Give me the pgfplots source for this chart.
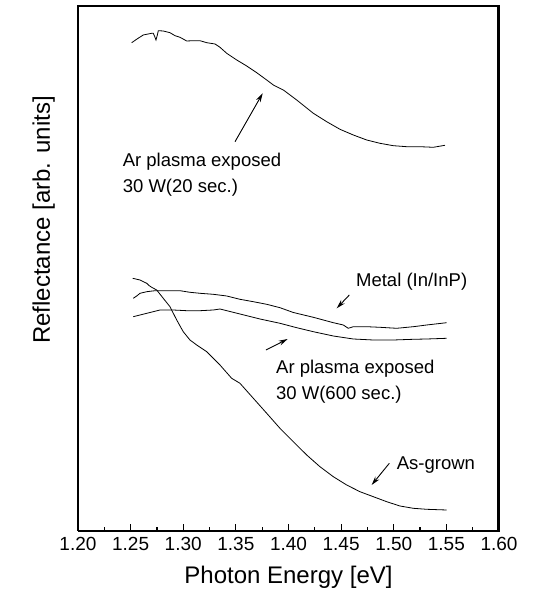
\documentclass[border=0pt]{standalone}
\usepackage{fontspec}
\setmainfont{Liberation Sans}
\usepackage{pgfplots}
\pgfplotsset{compat=1.18}
\usetikzlibrary{arrows.meta}

\begin{document}
\begin{tikzpicture}
\begin{axis}[
  scale only axis,
  width=421pt, height=525pt,
  xmin=1.2, xmax=1.6, ymin=0, ymax=525,
  axis x line*=bottom,
  axis y line*=left,
  axis line style={line width=1.8pt, -},
  xtick={1.20,1.25,...,1.601},
  minor x tick num=1,
  tick align=inside,
  major tick length=7pt,
  minor tick length=4pt,
  tick style={line width=1.2pt, black},
  ytick=\empty,
  xticklabel style={font=\fontsize{19}{21}\selectfont, yshift=-3pt},
  /pgf/number format/.cd, fixed, fixed zerofill, precision=2, assume math mode=true,
  /pgfplots/.cd,
  xlabel={Photon Energy [eV]},
  xlabel style={font=\fontsize{24}{26}\selectfont, at={(axis description cs:0.5,0)}, anchor=base, yshift=-52pt},
  clip=false,
]
% Ar plasma exposed, 30 W (20 s)
\addplot[black, line width=0.8pt] coordinates {
(1.2510,488.3) (1.2561,492) (1.2620,496) (1.2700,497.7) (1.2715,497.7)
(1.2727,495) (1.2741,491) (1.2754,496) (1.2763,500.3) (1.2810,500)
(1.2874,498.3) (1.2922,495.3) (1.2969,493.7) (1.3033,490) (1.3095,490.3)
(1.3159,490.3) (1.3223,488.3) (1.3302,487) (1.3349,483.7) (1.3413,477.7)
(1.3508,471) (1.3603,465) (1.3698,458.3) (1.3793,451) (1.3856,446)
(1.3951,441) (1.4078,431) (1.4236,417.7) (1.4363,409.3) (1.4489,401.7)
(1.4616,396) (1.4743,391) (1.4869,387.7) (1.4996,385.3) (1.5123,384.3)
(1.5249,384.3) (1.5376,383.7) (1.5487,385.7)
};
% As-grown
\addplot[black, line width=0.8pt] coordinates {
(1.2520,252.7) (1.2589,251) (1.2653,247.7) (1.2675,245.5) (1.2700,243.7)
(1.2748,241) (1.2810,232.7) (1.2874,224.3) (1.2938,211) (1.3000,199.3)
(1.3064,191) (1.3128,186) (1.3223,179.3) (1.3349,166) (1.3460,152.7)
(1.3539,147.7) (1.3666,132.7) (1.3793,117.7) (1.3919,102.7) (1.4046,89.3)
(1.4173,76) (1.4299,64.3) (1.4426,54.3) (1.4553,46) (1.4679,39.3)
(1.4806,34.3) (1.4933,29.3) (1.5059,25) (1.5186,22.7) (1.5313,21.7)
(1.5503,21)
};
% Metal (In/InP)
\addplot[black, line width=0.8pt] coordinates {
(1.2525,232.7) (1.2558,235) (1.2589,237.7) (1.2653,239.3) (1.2732,240.3)
(1.2843,240.3) (1.2969,240.3) (1.3064,238.7) (1.3159,237.7) (1.3286,236.7)
(1.3413,235) (1.3539,231.7) (1.3666,229.3) (1.3793,226.7) (1.3919,223.3)
(1.4046,218.5) (1.4236,213.7) (1.4426,208.3) (1.4521,206) (1.4568,202.7)
(1.4616,204.3) (1.4743,204.3) (1.4869,203.7) (1.5028,202.7) (1.5186,204.3)
(1.5313,206) (1.5503,208.3)
};
% Ar plasma exposed, 30 W (600 s)
\addplot[black, line width=0.8pt] coordinates {
(1.2525,214.3) (1.2653,217.7) (1.2779,221) (1.2905,221) (1.3033,220.3)
(1.3159,220.3) (1.3286,221) (1.3349,222) (1.3413,220.3) (1.3539,217)
(1.3729,212) (1.3919,207.7) (1.4078,203.3) (1.4236,199.3) (1.4426,195)
(1.4616,192) (1.4806,191) (1.4996,191) (1.5186,191.7) (1.5313,192)
(1.5503,192.7)
};

% top and right sides of the frame
\draw[draw=black, line width=2.2pt, line cap=rect]
  (axis cs:1.2,524.6) -- (axis cs:1.5996,524.6) -- (axis cs:1.5996,0);

% vertical axis title
\node[rotate=90, anchor=base, font=\fontsize{24}{26}\selectfont] at (axis cs:1.1734,311) {Reflectance [arb. units]};

% annotations
\tikzset{lbl/.style={anchor=base west, inner sep=0pt, font=\fontsize{18.5}{20}\selectfont},
         pt/.style={line width=0.9pt, -{Stealth[length=9pt,width=5pt]}}}
\node[lbl] at (axis cs:1.2424,364.3) {Ar plasma exposed};
\node[lbl] at (axis cs:1.2424,338) {30 W(20 sec.)};
\draw[pt] (axis cs:1.3492,389.3) -- (axis cs:1.3755,437.7);

\node[lbl] at (axis cs:1.4641,244.3) {Metal (In/InP)};
\draw[pt] (axis cs:1.4578,236) -- (axis cs:1.4458,222.7);

\node[lbl] at (axis cs:1.3881,157.7) {Ar plasma exposed};
\node[lbl] at (axis cs:1.3881,131.7) {30 W(600 sec.)};
\draw[pt] (axis cs:1.3786,181) -- (axis cs:1.3992,192);

\node[lbl] at (axis cs:1.5028,61) {As-grown};
\draw[pt] (axis cs:1.4958,67.7) -- (axis cs:1.4790,46);

% page extent
\path (axis cs:1.1259,-62) rectangle (axis cs:1.6333,531);
\end{axis}
\end{tikzpicture}
\end{document}
